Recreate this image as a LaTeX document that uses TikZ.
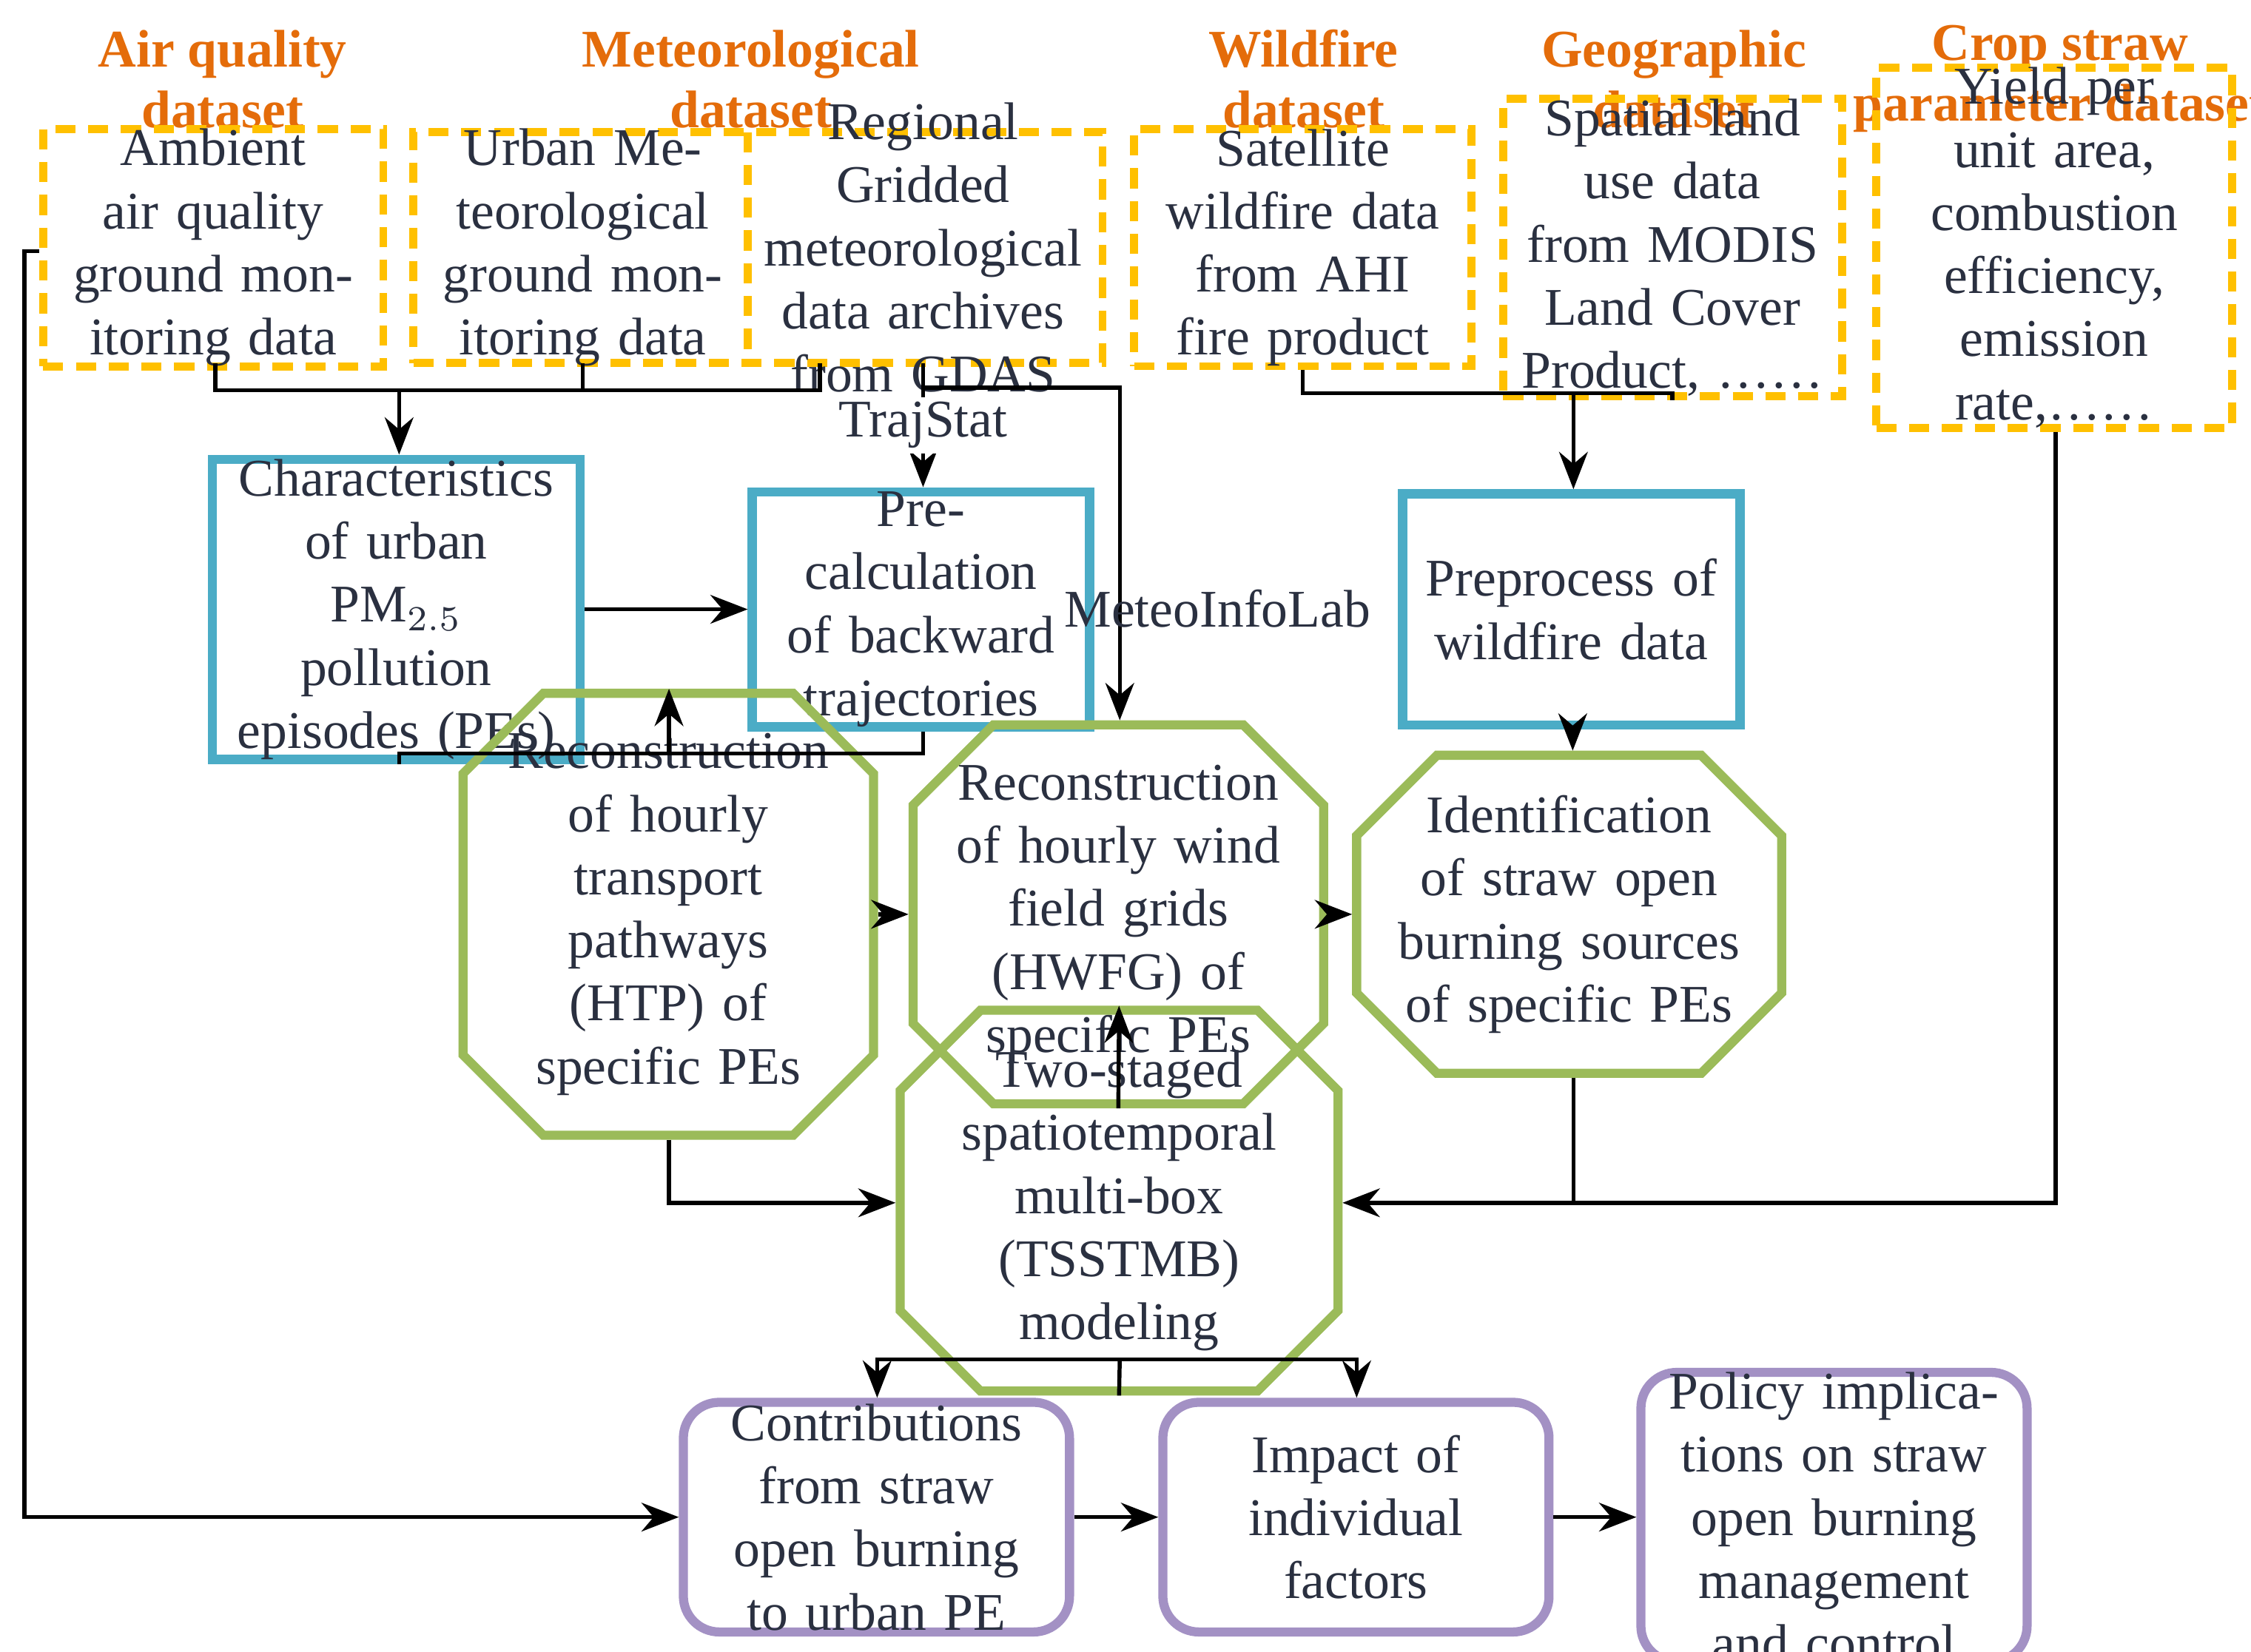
\documentclass[tikz,border=0pt]{standalone}
\usepackage{fontspec}
\setmainfont{Liberation Serif}
\usetikzlibrary{arrows.meta,shapes.misc}
\definecolor{hdr}{HTML}{E46C0A}
\definecolor{ylw}{HTML}{FFC000}
\definecolor{blu}{HTML}{4BACC6}
\definecolor{grn}{HTML}{9BBB59}
\definecolor{pur}{HTML}{A391C4}
\definecolor{txt}{HTML}{2A3040}
\tikzset{
 every node/.style={font=\fontsize{10.5}{12.5}\selectfont, text=txt, align=center},
 hd/.style={font=\fontsize{10.5}{12}\selectfont\bfseries, text=hdr},
 ds/.style={draw=ylw, line width=1.6pt, dash pattern=on 4pt off 2.5pt, minimum height=1.61cm, inner sep=0pt},
 bl/.style={draw=blu, line width=1.8pt, minimum height=1.61cm, inner sep=0pt},
 gr/.style={chamfered rectangle, chamfered rectangle xsep=0.28cm, chamfered rectangle ysep=0.28cm, draw=grn, line width=1.8pt, minimum height=1.6cm, inner sep=0pt},
 pu/.style={draw=pur, rounded corners=0.25cm, line width=1.8pt, minimum height=1.6cm, minimum width=2.69cm, inner sep=0pt},
 ar/.style={-{Stealth[length=2.6mm,width=2mm]}, line width=0.8pt},
 ln/.style={line width=0.8pt}
}
\begin{document}
\begin{tikzpicture}
\useasboundingbox (0,0) rectangle (15.68,-11.505);
% headers
\node[hd] (h1) at (1.55,-0.55) {Air quality\\dataset};
\node[hd] (h2) at (5.23,-0.55) {Meteorological\\dataset};
\node[hd] (h3) at (9.08,-0.55) {Wildfire\\dataset};
\node[hd] (h4) at (11.66,-0.55) {Geographic\\dataset};
\node[hd] (h5) at (14.35,-0.55) {Crop straw\\parameter dataset};
% datasets
\node[ds, minimum width=2.37cm, text width=2.1cm] (d1) at (1.485,-1.725) {Ambient air quality ground monitoring data};
\node[ds, minimum width=4.8cm] (d2) at (5.28,-1.725) {};
\draw[draw=ylw, line width=1.6pt, dash pattern=on 4pt off 2.5pt] (5.21,-0.92) -- (5.21,-2.53);
\node[text width=2.2cm] (d2a) at (4.06,-1.725) {Urban Meteorological ground monitoring data};
\node[text width=2.3cm] (d2b) at (6.43,-1.725) {Regional Gridded meteorological data archives from GDAS};
\node[ds, minimum width=2.35cm, text width=2.2cm] (d3) at (9.075,-1.725) {Satellite wildfire data\ \ from AHI fire product};
\node[ds, minimum width=2.36cm, text width=2.25cm] (d4) at (11.65,-1.725) {Spatial land use data from MODIS Land Cover Product, ……};
\node[ds, minimum width=2.48cm, text width=2.35cm] (d5) at (14.31,-1.725) {Yield per unit area, combustion efficiency, emission rate,……};
% blue
\node[bl, minimum width=2.56cm, text width=2.3cm] (A) at (2.76,-4.245) {Characteristics of urban PM$_{2.5}$ pollution episodes (PEs)};
\node[bl, minimum width=2.35cm, text width=2.2cm] (B) at (6.415,-4.245) {Pre-calculation of backward trajectories};
\node[bl, minimum width=2.35cm, text width=2.2cm] (C) at (10.945,-4.245) {Preprocess of wildfire data};
% green
\node[gr, minimum width=2.57cm, text width=2.3cm] (D) at (4.655,-6.37) {Reconstruction of hourly transport pathways (HTP) of specific PEs};
\node[gr, minimum width=2.56cm, text width=2.3cm] (E) at (7.79,-6.37) {Reconstruction of hourly wind field grids\ \ (HWFG) of specific PEs};
\node[gr, minimum width=2.56cm, text width=2.4cm] (F) at (10.93,-6.37) {Identification of straw open burning sources of specific PEs};
\node[gr, minimum width=3.05cm, text width=2.4cm] (G) at (7.795,-8.365) {Two-staged spatiotemporal multi-box (TSSTMB) modeling};
% purple
\node[pu, text width=2.4cm] (H) at (6.105,-10.57) {Contributions from straw open burning to urban PE};
\node[pu, text width=2.4cm] (I) at (9.445,-10.57) {Impact of individual factors};
\node[pu, text width=2.5cm] (J) at (12.775,-10.57) {Policy implications on straw open burning management and control};
% connectors top-left
\coordinate (j1) at (2.78,-2.72);
\draw[ln] (1.5,-2.53) -- (1.5,-2.72) -- (5.71,-2.72) -- (5.71,-2.53);
\draw[ln] (4.06,-2.53) -- (4.06,-2.72);
\draw[ar] (j1) -- (A.north -| j1);
\coordinate (j2) at (6.43,-2.53);
\draw[ar] (j2) -- (B.north -| j2) node[pos=0.5, fill=white, inner sep=1pt] (t1) {TrajStat};
\coordinate (j3) at (7.8,-2.7);
\draw[ar] (6.43,-2.7) -- (j3) -- (E.north -| j3);
\node (t2) at (8.48,-4.24) {MeteoInfoLab};
% wildfire/geo
\coordinate (j4) at (10.96,-2.74);
\draw[ln] (d3.south) -- (d3.south |- j4) -- (d4.south |- j4) -- (d4.south);
\draw[ar] (j4) -- (C.north -| j4);
% A->B
\draw[ar] (A.east) -- (B.west);
% A,B -> D
\coordinate (j5) at (4.66,-5.25);
\draw[ln] (A.south -| 2.78,0) -- (2.78,-5.25) -- (6.43,-5.25) -- (B.south -| 6.43,0);
\draw[ar] (j5) -- (D.north -| j5);
\draw[ar] (C.south -| 10.955,0) -- (F.north -| 10.955,0);
\draw[ar] (D.east) -- (E.west);
\draw[ar] (E.east) -- (F.west);
\draw[ar] (E.south) -- (G.north);
\coordinate (j6) at (4.66,-8.38);
\draw[ar] (D.south -| j6) -- (j6) -- (G.west |- j6);
\coordinate (j7) at (10.96,-8.38);
\draw[ln] (F.south -| j7) -- (j7);
\draw[ar] (d5.south -| 14.32,0) -- (14.32,-8.38) -- (G.east |- j7);
% G -> H,I
\coordinate (j8) at (7.8,-9.47);
\draw[ln] (G.south) -- (j8);
\draw[ar] (j8) -| (H.north -| 6.11,0);
\draw[ar] (j8) -| (I.north -| 9.45,0);
% left line
\coordinate (j9) at (0.17,-10.57);
\draw[ar] (d1.west |- 0,-1.75) -- (0.17,-1.75) -- (j9) -- (H.west);
\draw[ar] (H.east) -- (I.west);
\draw[ar] (I.east) -- (J.west);
\end{tikzpicture}
\end{document}
